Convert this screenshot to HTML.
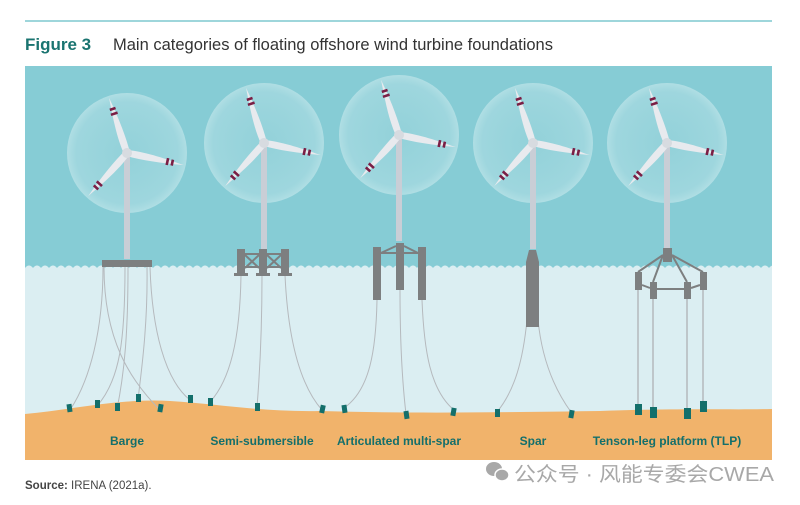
<!DOCTYPE html>
<html><head><meta charset="utf-8"><style>
html,body{margin:0;padding:0;background:#fff;width:800px;height:505px;overflow:hidden}
svg{display:block}
</style></head><body>
<svg width="800" height="505" viewBox="0 0 800 505" xmlns="http://www.w3.org/2000/svg" font-family="Liberation Sans, sans-serif">
<defs>
<radialGradient id="disc" cx="50%" cy="50%" r="50%">
<stop offset="0" stop-color="#a2d8df" stop-opacity="0.45"/>
<stop offset="0.85" stop-color="#b2dfe5" stop-opacity="0.55"/>
<stop offset="1" stop-color="#c6e8ec" stop-opacity="0.65"/>
</radialGradient>
<pattern id="wave" x="25" y="262" width="8" height="10" patternUnits="userSpaceOnUse">
<path d="M0,6 Q4,1 8,6 L8,10 L0,10Z" fill="#dbeef2"/>
</pattern>
<g id="blade">
<path d="M0,-3 C15,-5 35,-3 58,0 C35,3 15,4 0,3 Z" fill="#e8eaee"/>
<rect x="40" y="-3.5" width="2.6" height="7" fill="#7a1f45"/>
<rect x="45" y="-3" width="2.6" height="6" fill="#7a1f45"/>
</g>
<g id="turb">
<circle r="60" fill="url(#disc)"/>
<rect x="-3" y="0" width="6" height="106" fill="#c9ced6"/>
<use href="#blade" transform="rotate(-108)"/>
<use href="#blade" transform="rotate(12)"/>
<use href="#blade" transform="rotate(132)"/>
<circle r="5" fill="#d7dbe0"/>
</g>
</defs>
<line x1="25" y1="21" x2="772" y2="21" stroke="#7fc9cf" stroke-width="1.5"/>
<text x="25" y="50" font-size="17" font-weight="bold" fill="#1a7470">Figure 3</text>
<text x="113" y="50" font-size="16.5" fill="#333">Main categories of floating offshore wind turbine foundations</text>
<rect x="25" y="66" width="747" height="394" fill="#86ccd5"/>
<rect x="25" y="268" width="747" height="192" fill="#dbeef2"/>
<rect x="25" y="262" width="747" height="10" fill="url(#wave)"/>
<path d="M25,414 C70,410 120,398 170,401 C220,404 260,412 320,411 C420,414 520,412 600,411 C680,408 730,410 772,409 L772,460 L25,460Z" fill="#f1b36b"/>
<use href="#turb" x="127" y="153"/>
<use href="#turb" x="264" y="143"/>
<use href="#turb" x="399" y="135"/>
<use href="#turb" x="533" y="143"/>
<use href="#turb" x="667" y="143"/>
<g fill="none" stroke="#b5b9bd" stroke-width="1">
<path d="M103,267 C103,330 90,380 70,410"/>
<path d="M104,267 C104,340 130,380 160,410"/>
<path d="M125,267 C125,340 120,380 97,406"/>
<path d="M128,267 C128,330 125,370 117,409"/>
<path d="M147,267 C148,330 140,380 138,400"/>
<path d="M150,267 C152,330 165,380 190,400"/>
<path d="M241,275 C240,340 230,380 210,402"/>
<path d="M262,275 C262,330 260,370 257,407"/>
<path d="M285,275 C288,340 300,385 322,410"/>
<path d="M377,300 C376,350 370,390 344,408"/>
<path d="M400,290 C400,340 402,380 406,414"/>
<path d="M422,300 C424,350 430,390 454,410"/>
<path d="M527,320 C523,360 515,390 497,412"/>
<path d="M538,320 C542,360 555,390 571,412"/>
</g>
<g stroke="#b5b9bd" stroke-width="1.5">
<line x1="638" y1="290" x2="638" y2="405"/>
<line x1="653" y1="299" x2="653" y2="408"/>
<line x1="687" y1="299" x2="687" y2="408"/>
<line x1="703" y1="290" x2="703" y2="403"/>
</g>
<g fill="#7d7f80">
<rect x="102" y="260" width="50" height="7"/>
<rect x="237" y="249" width="8" height="26"/><rect x="259" y="249" width="8" height="26"/><rect x="281" y="249" width="8" height="26"/>
<rect x="234" y="273" width="14" height="3"/><rect x="256" y="273" width="14" height="3"/><rect x="278" y="273" width="14" height="3"/>
<rect x="245" y="253" width="36" height="2"/><rect x="245" y="266" width="36" height="2"/>
<rect x="373" y="247" width="8" height="53"/><rect x="396" y="243" width="8" height="47"/><rect x="418" y="247" width="8" height="53"/>
<rect x="381" y="252" width="37" height="2"/>
<path d="M529,250 L536,250 L539,262 L539,327 L526,327 L526,262Z"/>
<rect x="663" y="248" width="9" height="14"/>
<rect x="635" y="272" width="7" height="18"/><rect x="650" y="282" width="7" height="17"/><rect x="684" y="282" width="7" height="17"/><rect x="700" y="272" width="7" height="18"/>
</g>
<g stroke="#7d7f80" stroke-width="2" fill="none">
<line x1="245" y1="255" x2="259" y2="268"/><line x1="259" y1="255" x2="245" y2="268"/>
<line x1="267" y1="255" x2="281" y2="268"/><line x1="281" y1="255" x2="267" y2="268"/>
<line x1="381" y1="253" x2="396" y2="246"/><line x1="404" y1="246" x2="418" y2="253"/>
<path d="M663,255 L638,272 M663,255 L653,282 M672,255 L687,282 M672,255 L703,272 M642,285 L650,288 M657,289 L684,289 M691,288 L700,285"/>
</g>
<g fill="#136f6b">
<rect x="67" y="404" width="5" height="8" transform="rotate(-8 70 408)"/>
<rect x="95" y="400" width="5" height="8"/>
<rect x="115" y="403" width="5" height="8"/>
<rect x="136" y="394" width="5" height="8"/>
<rect x="158" y="404" width="5" height="8" transform="rotate(10 160 408)"/>
<rect x="188" y="395" width="5" height="8"/>
<rect x="208" y="398" width="5" height="8"/>
<rect x="255" y="403" width="5" height="8"/>
<rect x="320" y="405" width="5" height="8" transform="rotate(12 322 409)"/>
<rect x="342" y="405" width="5" height="8" transform="rotate(-8 344 409)"/>
<rect x="404" y="411" width="5" height="8" transform="rotate(-8 406 415)"/>
<rect x="451" y="408" width="5" height="8" transform="rotate(10 454 412)"/>
<rect x="495" y="409" width="5" height="8"/>
<rect x="569" y="410" width="5" height="8" transform="rotate(10 571 414)"/>
<rect x="635" y="404" width="7" height="11"/>
<rect x="650" y="407" width="7" height="11"/>
<rect x="684" y="408" width="7" height="11"/>
<rect x="700" y="401" width="7" height="11"/>
</g>
<g font-size="12" font-weight="bold" fill="#136f6b" text-anchor="middle">
<text x="127" y="445">Barge</text>
<text x="262" y="445">Semi-submersible</text>
<text x="399" y="445">Articulated multi-spar</text>
<text x="533" y="445">Spar</text>
<text x="667" y="445">Tenson-leg platform (TLP)</text>
</g>
<text x="25" y="489" font-size="11.5" fill="#444"><tspan font-weight="bold">Source:</tspan> IRENA (2021a).</text>
<g fill="#a8a8a8">
<ellipse cx="494" cy="469" rx="8" ry="7"/>
<ellipse cx="502" cy="475" rx="7" ry="6" stroke="#fff" stroke-width="1.5"/>
</g>
<text x="514" y="481" font-size="20" fill="#a8a8a8" font-family="Liberation Sans, Noto Sans CJK SC, sans-serif" textLength="260" lengthAdjust="spacingAndGlyphs">公众号 · 风能专委会CWEA</text>
</svg>
</body></html>
